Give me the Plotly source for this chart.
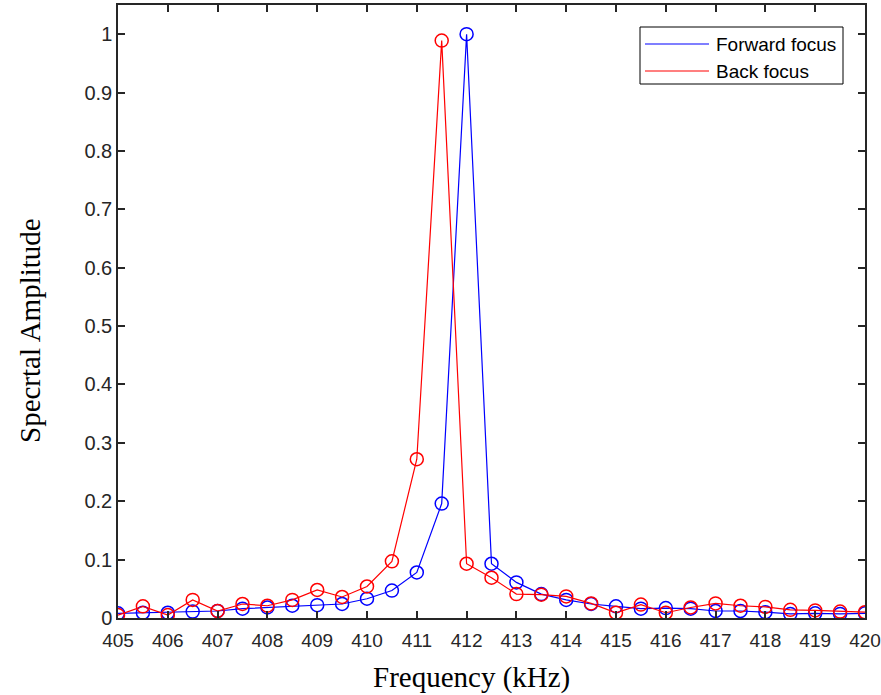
import plotly.graph_objects as go

freq = [405, 405.5, 406, 406.5, 407, 407.5, 408, 408.5, 409, 409.5, 410, 410.5,
        411, 411.5, 412, 412.5, 413, 413.5, 414, 414.5, 415, 415.5, 416, 416.5,
        417, 417.5, 418, 418.5, 419, 419.5, 420]
forward = [0.008, 0.009, 0.009, 0.011, 0.012, 0.016, 0.018, 0.021, 0.022, 0.024, 0.033, 0.047,
           0.078, 0.196, 1.0, 0.093, 0.061, 0.041, 0.031, 0.024, 0.020, 0.016, 0.017, 0.016,
           0.012, 0.012, 0.010, 0.007, 0.008, 0.007, 0.008]
back = [0.005, 0.020, 0.005, 0.031, 0.012, 0.024, 0.021, 0.031, 0.048, 0.036, 0.054, 0.097,
        0.272, 0.989, 0.093, 0.069, 0.041, 0.040, 0.037, 0.025, 0.009, 0.023, 0.009, 0.018,
        0.025, 0.021, 0.019, 0.014, 0.013, 0.011, 0.010]
series_names = ["Forward focus", "Back focus"]
series_colors = ["#0000ff", "#ff0000"]
xticks = list(range(405, 421))
yticks = [0, 0.1, 0.2, 0.3, 0.4, 0.5, 0.6, 0.7, 0.8, 0.9, 1]
ylabels = ["0", "0.1", "0.2", "0.3", "0.4", "0.5", "0.6", "0.7", "0.8", "0.9", "1"]

W, H = 881, 695
L, R, T, B = 118, 16, 5, 77
pw, ph = W - L - R, H - T - B


def px(x):
    return (x - L) / pw


def py(y):
    return (H - B - y) / ph


fig = go.Figure()
for name, vals, col in zip(series_names, [forward, back], series_colors):
    fig.add_trace(go.Scatter(x=freq, y=vals, mode="lines+markers", name=name, showlegend=False,
                             line=dict(color=col, width=1.2),
                             marker=dict(symbol="circle-open", size=13, color=col,
                                         line=dict(width=1.5, color=col))))

axis_common = dict(showline=True, linecolor="#262626", linewidth=1.5, mirror="ticks",
                   ticks="inside", ticklen=7, tickwidth=1.5, tickcolor="#262626",
                   showgrid=False, zeroline=False, ticklabeloverflow="allow", automargin=False)
fig.update_xaxes(range=[405, 420], tickvals=xticks, ticktext=[str(t) for t in xticks],
                 ticklabelstandoff=4,
                 tickfont=dict(family="Liberation Sans, Arial", size=19, color="#262626"),
                 **axis_common)
fig.update_yaxes(range=[0, 1.05], tickvals=yticks, ticktext=ylabels,
                 tickfont=dict(family="Liberation Sans, Arial", size=20, color="#262626"),
                 **axis_common)

title_font = dict(family="Liberation Serif, Times New Roman", size=29, color="#000000")
annotations = [
    dict(text="Frequency (kHz)", xref="paper", yref="paper", x=px(471.5), y=py(677),
         xanchor="center", yanchor="middle", showarrow=False, font=title_font),
    dict(text="Specrtal Amplitude", xref="paper", yref="paper", x=px(30), y=py(331),
         xanchor="center", yanchor="middle", showarrow=False, textangle=-90, font=title_font),
]
shapes = [dict(type="rect", xref="paper", yref="paper", x0=px(640), x1=px(843), y0=py(84), y1=py(27),
               line=dict(color="#000000", width=1), fillcolor="white", layer="above")]
leg_font = dict(family="Liberation Sans, Arial", size=19, color="#000000")
for i, (name, col) in enumerate(zip(series_names, series_colors)):
    yy = 44 + 27 * i
    shapes.append(dict(type="line", xref="paper", yref="paper", x0=px(645), x1=px(709),
                       y0=py(yy), y1=py(yy), line=dict(color=col, width=1.2), layer="above"))
    annotations.append(dict(text=name, xref="paper", yref="paper", x=px(714), y=py(yy),
                            xanchor="left", yanchor="middle", showarrow=False, font=leg_font))

fig.update_layout(width=W, height=H, margin=dict(l=L, r=R, t=T, b=B, autoexpand=False),
                  plot_bgcolor="white", paper_bgcolor="white", showlegend=False,
                  annotations=annotations, shapes=shapes)
fig.write_html("out.html", config={"displayModeBar": False},
               post_script="document.body.style.margin='0px';")
